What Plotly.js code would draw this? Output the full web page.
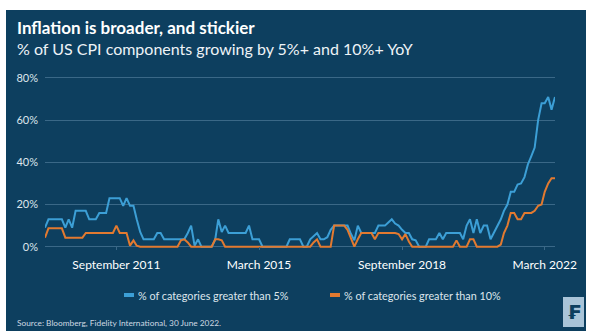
<!DOCTYPE html>
<html><head><meta charset="utf-8">
<script src="https://cdn.plot.ly/plotly-3.0.1.min.js"></script>
<style>html,body{margin:0;padding:0;background:#fff;}#chart{width:593px;height:336px;}</style>
</head><body><div id="chart"></div>
<script>
// ---- data ----
const startMonth = '2009-12';
const share5 = [
  9,13,13,13,13,13,9,13,9,17,
  17,17,17,13,13,13,16,16,16,23,
  23,23,23,19.4,23,19.4,19.4,13,7,3.5,
  3.5,3.5,3.5,6.5,6.5,3.5,3.5,3.5,3.5,3.5,
  3.5,3.5,6.5,10,0.5,3.5,0,0,0,0,
  3.2,13,7,10,6.5,6.5,6.5,6.5,6.5,6.5,
  10,3.5,3.5,3.5,0,0,0,0,0,0,
  0,0,3.5,3.5,3.5,3.5,0,0,3.5,5,
  6.5,3.5,3.5,4.5,8,10,10,10,10,10,
  6,3,10,6.5,6.5,6.5,6.5,6.5,10,10,
  10,11.5,13,11,10,8,6.5,6.5,3.5,3,
  0,0,0,3.5,3.5,3.5,6.5,3.5,6.5,6.5,
  6.5,6.5,6.5,3.5,10,13,6.5,13,6.5,10,
  10,3.5,6.5,10,13,17,20,26,26,29.5,
  30,33,39,43,47,60,68,68,71,65,71
];
const share10 = [
  4.3,8.7,8.7,8.7,8.7,8.7,4.3,4.3,4.3,4.3,
  4.3,4.3,6.5,6.5,6.5,6.5,6.5,6.5,6.5,6.5,
  6.5,10,6.5,6.5,6.5,0.5,3,0.5,0,0,
  0,0,0,0,0,0,0,0,0,0,
  3,3.5,2,0,0,0,0,0,0,0,
  3.5,3.5,3,0,0,0,0,0,0,0,
  0,0,0,0,0,0,0,0,0,0,
  0,0,0,0,0,0,0,0,0,2,
  3.5,0,0,0,0,10,10,10,10,8,
  4,0,3.5,6.5,6.5,6.5,6.5,3.5,6.5,6.5,
  6.5,6.5,6.5,6.5,6,3.5,6,2.5,0,0,
  0,0,0,0,0,0,0,0,0,0,
  0,3,0,0,0,3.5,3.5,0,0,0,
  0,0,0,0,1,6.5,10,16,16,13,
  13,16,16,16,17,19.4,20,26,30,32.5,32.5
];
const seriesNames = ['% of categories greater than 5%', '% of categories greater than 10%'];
const xTickDates = ['2011-09-01','2015-03-01','2018-09-01','2022-03-01'];
const xTickLabels = ['September 2011','March 2015','September 2018','March 2022'];
const yTickVals = [0,20,40,60,80];
const yTickLabels = ['0%','20%','40%','60%','80%'];
const titleText = 'Inflation is broader, and stickier';
const subtitleText = '% of US CPI components growing by 5%+ and 10%+ YoY';
const sourceText = 'Source: Bloomberg, Fidelity International, 30 June 2022.';

function monthList(start, n){
  let [y,m] = start.split('-').map(Number);
  const out = [];
  for (let i=0;i<n;i++){
    out.push(y + '-' + String(m).padStart(2,'0') + '-01');
    m++; if (m>12){m=1;y++;}
  }
  return out;
}
const dates = monthList(startMonth, share5.length);

// ---- layout geometry ----
const W=593, H=336, L=45, R=38, T=70, B=86;
const pw=W-L-R, ph=H-T-B;
const px = x => (x-L)/pw;
const py = y => (H-B-y)/ph;

const BG='#0d3f5f', BLUE='#3c9fd6', ORANGE='#e27a30', GRID='#3a6887', TXT='#dde6ed';
const FONT='Lato, "Open Sans", sans-serif';

const traces = [
  {x:dates, y:share5, name:seriesNames[0], mode:'lines', line:{color:BLUE,width:2}, hoverinfo:'skip', showlegend:false},
  {x:dates, y:share10, name:seriesNames[1], mode:'lines', line:{color:ORANGE,width:2}, hoverinfo:'skip', showlegend:false}
];

const layout = {
  width:W, height:H,
  margin:{l:L,r:R,t:T,b:B,pad:0},
  paper_bgcolor:'#ffffff', plot_bgcolor:'rgba(0,0,0,0)',
  font:{family:FONT, color:TXT},
  title:{text:'<b>'+titleText+'</b>', font:{size:17,color:'#ffffff',family:FONT},
         x:17/W, xref:'container', xanchor:'left', y:1-28/H, yref:'container', yanchor:'middle'},
  xaxis:{type:'date', range:[dates[0], dates[dates.length-1]], showgrid:false, zeroline:false, showline:false,
         tickmode:'array', tickvals:xTickDates, ticktext:xTickLabels, ticks:'inside', ticklen:3, tickcolor:GRID, tickwidth:1,
         tickfont:{size:12,color:'#ffffff'}, ticklabelstandoff:6},
  yaxis:{range:[-1.565, 83.79], showgrid:true, gridcolor:GRID, gridwidth:1, zeroline:false, showline:false,
         tickmode:'array', tickvals:yTickVals, ticktext:yTickLabels, ticks:'', tickfont:{size:11,color:TXT}, ticklabelstandoff:6},
  shapes:[
    {type:'rect', xref:'paper', yref:'paper', x0:px(6), x1:px(586), y0:py(331), y1:py(10), fillcolor:BG, line:{width:0}, layer:'below'},
    {type:'rect', xref:'paper', yref:'paper', x0:px(124), x1:px(134), y0:py(297), y1:py(293), fillcolor:BLUE, line:{width:0}},
    {type:'rect', xref:'paper', yref:'paper', x0:px(330), x1:px(340), y0:py(297), y1:py(293), fillcolor:ORANGE, line:{width:0}},
    {type:'rect', xref:'paper', yref:'paper', x0:px(563), x1:px(584), y0:py(327), y1:py(297), fillcolor:'#a9c4d8', line:{width:0}}
  ],
  annotations:[
    {xref:'paper', yref:'paper', x:px(15), y:py(48), xanchor:'left', yanchor:'middle', showarrow:false,
     text:subtitleText, font:{size:16,color:'#eef3f7',family:FONT}},
    {xref:'paper', yref:'paper', x:px(136), y:py(295), xanchor:'left', yanchor:'middle', showarrow:false,
     text:seriesNames[0], font:{size:10.8,color:TXT,family:FONT}},
    {xref:'paper', yref:'paper', x:px(342), y:py(295), xanchor:'left', yanchor:'middle', showarrow:false,
     text:seriesNames[1], font:{size:10.8,color:TXT,family:FONT}},
    {xref:'paper', yref:'paper', x:px(15), y:py(323), xanchor:'left', yanchor:'middle', showarrow:false,
     text:sourceText, font:{size:8.3,color:'#cfd9e2',family:FONT}},
    {xref:'paper', yref:'paper', x:px(573.5), y:py(312), xanchor:'center', yanchor:'middle', showarrow:false,
     text:'<b>₣</b>', font:{size:20,color:BG,family:'DejaVu Sans'}}
  ]
};

Plotly.newPlot('chart', traces, layout, {displayModeBar:false, staticPlot:true});
</script></body></html>
